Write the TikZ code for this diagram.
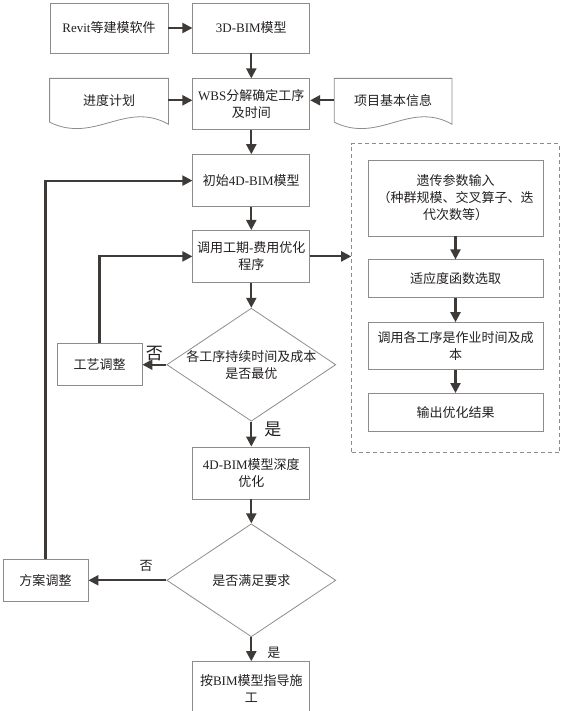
\documentclass[tikz,border=0pt]{standalone}
\usepackage{fontspec}
\setmainfont{Liberation Serif}
\newfontfamily\cjk{Noto Sans CJK SC}
\usetikzlibrary{arrows.meta,positioning,shapes.geometric,fit}
\definecolor{edgegray}{HTML}{8C8C8C}
\definecolor{linkdark}{HTML}{3E3A37}
\definecolor{inkblack}{HTML}{231F20}

\begin{document}
\begin{tikzpicture}[
    x=1pt, y=-1pt,
    box/.style={draw=edgegray, line width=0.8pt, align=center, minimum width=117pt, minimum height=52pt, inner sep=2pt, text=inkblack, font=\cjk\fontsize{13}{17}\selectfont},
    decision/.style={diamond, draw=edgegray, line width=0.8pt, minimum width=169pt, minimum height=113pt, inner sep=0pt},
    doc/.style={draw=edgegray, line width=0.8pt},
    dashbox/.style={draw=edgegray, line width=0.8pt, dash pattern=on 4pt off 3pt},
    tag/.style={inner sep=0pt, align=center, text=inkblack, font=\cjk\fontsize{13}{17}\selectfont},
    bigtag/.style={inner sep=0pt, text=inkblack, font=\cjk\fontsize{17}{20}\selectfont},
    link/.style={-{Triangle[length=10pt,width=10pt]}, line width=2.1pt, draw=linkdark}
]
\useasboundingbox (0,0) rectangle (563,711);

% main column
\node[box, minimum width=118pt, minimum height=50pt] (revit) at (109,28) {{\rmfamily Revit}等建模软件};
\node[box, minimum height=50pt, right=24pt of revit] (bim3d) {{\rmfamily 3D-BIM}模型};
\node[box, minimum height=51pt, below=25pt of bim3d] (wbs) {{\rmfamily WBS}分解确定工序\\及时间};
\node[box, draw=none, minimum width=118pt, minimum height=43pt, left=24pt of wbs.north west, anchor=north east] (plan) {进度计划};
\node[box, draw=none, minimum height=43pt, right=24pt of wbs.north east, anchor=north west] (info) {项目基本信息};
\node[box, below=24pt of wbs] (init4d) {初始{\rmfamily 4D-BIM}模型};
\node[box, below=23pt of init4d] (callopt) {调用工期{\rmfamily -}费用优化\\程序};
\node[decision, below=25pt of callopt] (dia1) {};
\node[tag] (dia1txt) at (dia1) {各工序持续时间及成本\\是否最优};
\node[box, minimum width=85pt, minimum height=42pt, left=24pt of dia1] (craft) {工艺调整};
\node[box, below=25pt of dia1] (deep4d) {{\rmfamily 4D-BIM}模型深度\\优化};
\node[decision, below=24pt of deep4d] (dia2) {};
\node[tag] (dia2txt) at (dia2) {是否满足要求};
\node[box, minimum width=85pt, minimum height=42pt, left=78pt of dia2] (scheme) {方案调整};
\node[box, minimum height=53pt, below=24pt of dia2] (build) {按{\rmfamily BIM}模型指导施\\工};

% genetic algorithm block
\node[box, minimum width=175pt, minimum height=76pt] (ga) at (455.5,198) {遗传参数输入\\（种群规模、交叉算子、迭\\代次数等）};
\node[box, minimum width=175pt, minimum height=38pt, below=23pt of ga] (fitsel) {适应度函数选取};
\node[box, minimum width=175pt, minimum height=47pt, below=24pt of fitsel] (callga) {调用各工序是作业时间及成\\本};
\node[box, minimum width=175pt, minimum height=38pt, below=23pt of callga] (outres) {输出优化结果};
\node[dashbox, fit={(ga) ([yshift=-5pt]outres.south)}, inner sep=16pt] (gabox) {};

% document outlines
\draw[doc] (plan.south west) -- (plan.north west) -- (plan.north east) -- ([yshift=-2pt]plan.south east)
    .. controls +(-43,-24) and +(45,22) .. (plan.south west);
\draw[doc] (info.south west) -- (info.north west) -- (info.north east) -- ([yshift=-2pt]info.south east)
    .. controls +(-43,-24) and +(45,22) .. (info.south west);

% connectors
\draw[link] (revit) -- (bim3d);
\draw[link] (bim3d) -- (wbs);
\draw[link] (plan) -- (plan -| wbs.west);
\draw[link] (info) -- (info -| wbs.east);
\draw[link] (wbs) -- (init4d);
\draw[link] (init4d) -- (callopt);
\draw[link] (callopt) -- (dia1);
\draw[link] (callopt.east) -- (callopt.east -| gabox.west);
\draw[link] (dia1) -- node[bigtag, above=3pt] {否} (craft);
\draw[link] (dia1) -- node[bigtag, right=12pt, pos=0.3] {是} (deep4d);
\draw[link] (craft) |- (callopt);
\draw[link] (deep4d) -- (dia2);
\draw[link] (dia2) -- node[tag, above=8pt, pos=0.26] {否} (scheme);
\draw[link] (dia2) -- node[tag, right=15pt, pos=0.65] {是} (build);
\draw[link] (scheme) |- (init4d);
\draw[link] (ga) -- (fitsel);
\draw[link] (fitsel) -- (callga);
\draw[link] (callga) -- (outres);
\end{tikzpicture}
\end{document}
